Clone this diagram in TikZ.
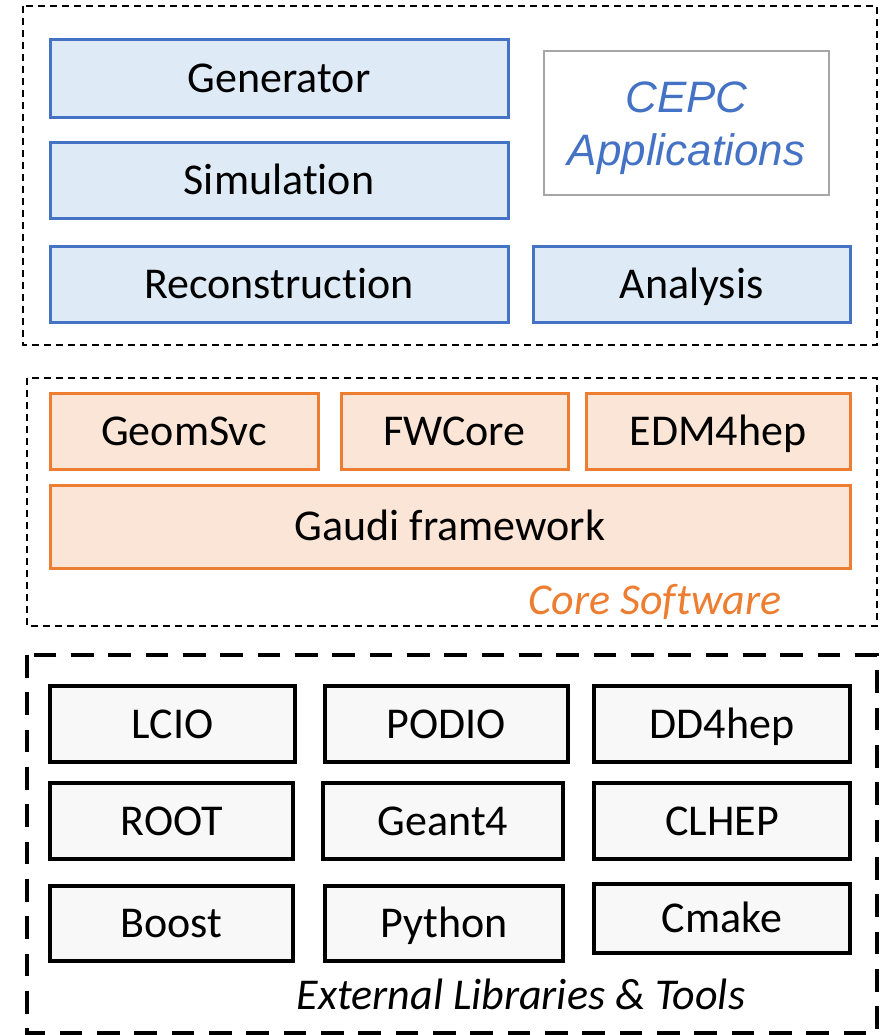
\documentclass[tikz,border=0pt]{standalone}
\usepackage{fontspec}
\setmainfont{Carlito}[Ligatures=NoCommon]
\newfontfamily\arialfont{Liberation Sans}

\definecolor{appblue}{HTML}{4472C4}
\definecolor{appfill}{HTML}{DEEBF7}
\definecolor{coreorange}{HTML}{ED7D31}
\definecolor{corefill}{HTML}{FBE5D6}
\definecolor{extfill}{HTML}{F8F8F8}
\definecolor{cepcgray}{HTML}{A6A6A6}

\tikzset{every picture/.style={line width=0.75pt},
  boxtext/.style={inner sep=0pt, font=\fontsize{33}{40}\selectfont, text height=21pt, text depth=0pt},
  appbox/.style={boxtext, draw=appblue, fill=appfill, line width=2.25pt},
  corebox/.style={boxtext, draw=coreorange, fill=corefill, line width=2.25pt},
  extbox/.style={boxtext, draw=black, fill=extfill, line width=2.4pt},
  thinframe/.style={draw=black, line width=1.5pt, dash pattern=on 5.25pt off 3.75pt},
  thickframe/.style={draw=black, line width=3.4pt, dash pattern=on 17pt off 11pt}
}

\begin{document}
\begin{tikzpicture}[x=0.75pt,y=0.75pt,yscale=-1,xscale=1]
        \useasboundingbox (0,0) rectangle (889,1035);

        %Dashed frames
        \draw[thinframe] (23,6) rectangle (877,345);
        \draw[thinframe] (27,378) rectangle (877,626);
        \draw[thickframe] (27,655) rectangle (877,1033);

        %CEPC applications
        \node[appbox, minimum width=343.5pt, minimum height=58.5pt] (gen) at (279,78) {Generator};
        \node[appbox, minimum width=343.5pt, minimum height=57pt] (sim) at (279,180) {Simulation};
        \node[appbox, minimum width=343.5pt, minimum height=57pt] (reco) at (279,284) {Reconstruction};
        \node[draw=cepcgray, line width=1.5pt, inner sep=0pt, minimum width=213.75pt, minimum height=108pt, text height=64pt, text depth=0pt,
              align=center, text=appblue, font=\arialfont\itshape\fontsize{33}{40}\selectfont] (cepc) at (686.5,123) {CEPC\\Applications};
        \node[appbox, minimum width=237.75pt, minimum height=57pt] (ana) at (691.5,284) {Analysis};

        %Core software
        \node[corebox, minimum width=201pt, minimum height=57pt] (geom) at (184,431) {GeomSvc};
        \node[corebox, minimum width=170.25pt, minimum height=57pt] (fwcore) at (454.5,431) {FWCore};
        \node[corebox, minimum width=198pt, minimum height=57pt] (edm) at (718,431) {EDM4hep};
        \node[corebox, minimum width=600pt, minimum height=62.25pt] (gaudi) at (450,526.5) {Gaudi framework};
        \node[boxtext, text=coreorange, font=\itshape\fontsize{33}{40}\selectfont] (corelabel) at (655,600) {Core Software};

        %External libraries and tools
        \node[extbox, minimum width=183.75pt, minimum height=57pt] (lcio) at (172.5,724) {LCIO};
        \node[extbox, minimum width=182.25pt, minimum height=57pt] (podio) at (446.5,724) {PODIO};
        \node[extbox, minimum width=192pt, minimum height=57pt] (dd4hep) at (722,724) {DD4hep};
        \node[extbox, minimum width=182.25pt, minimum height=57pt] (root) at (171.5,821) {ROOT};
        \node[extbox, minimum width=180pt, minimum height=57pt] (geant) at (443,821) {Geant4};
        \node[extbox, minimum width=192pt, minimum height=57pt] (clhep) at (722,821) {CLHEP};
        \node[extbox, minimum width=182.25pt, minimum height=56.25pt] (boost) at (171.5,923.5) {Boost};
        \node[extbox, minimum width=178.5pt, minimum height=56.25pt] (python) at (444,923.5) {Python};
        \node[extbox, minimum width=192pt, minimum height=51.75pt] (cmake) at (722,918.5) {Cmake};
        \node[boxtext, font=\itshape\fontsize{33}{40}\selectfont] (extlabel) at (521,995) {External Libraries \& Tools};

        \end{tikzpicture}
\end{document}
